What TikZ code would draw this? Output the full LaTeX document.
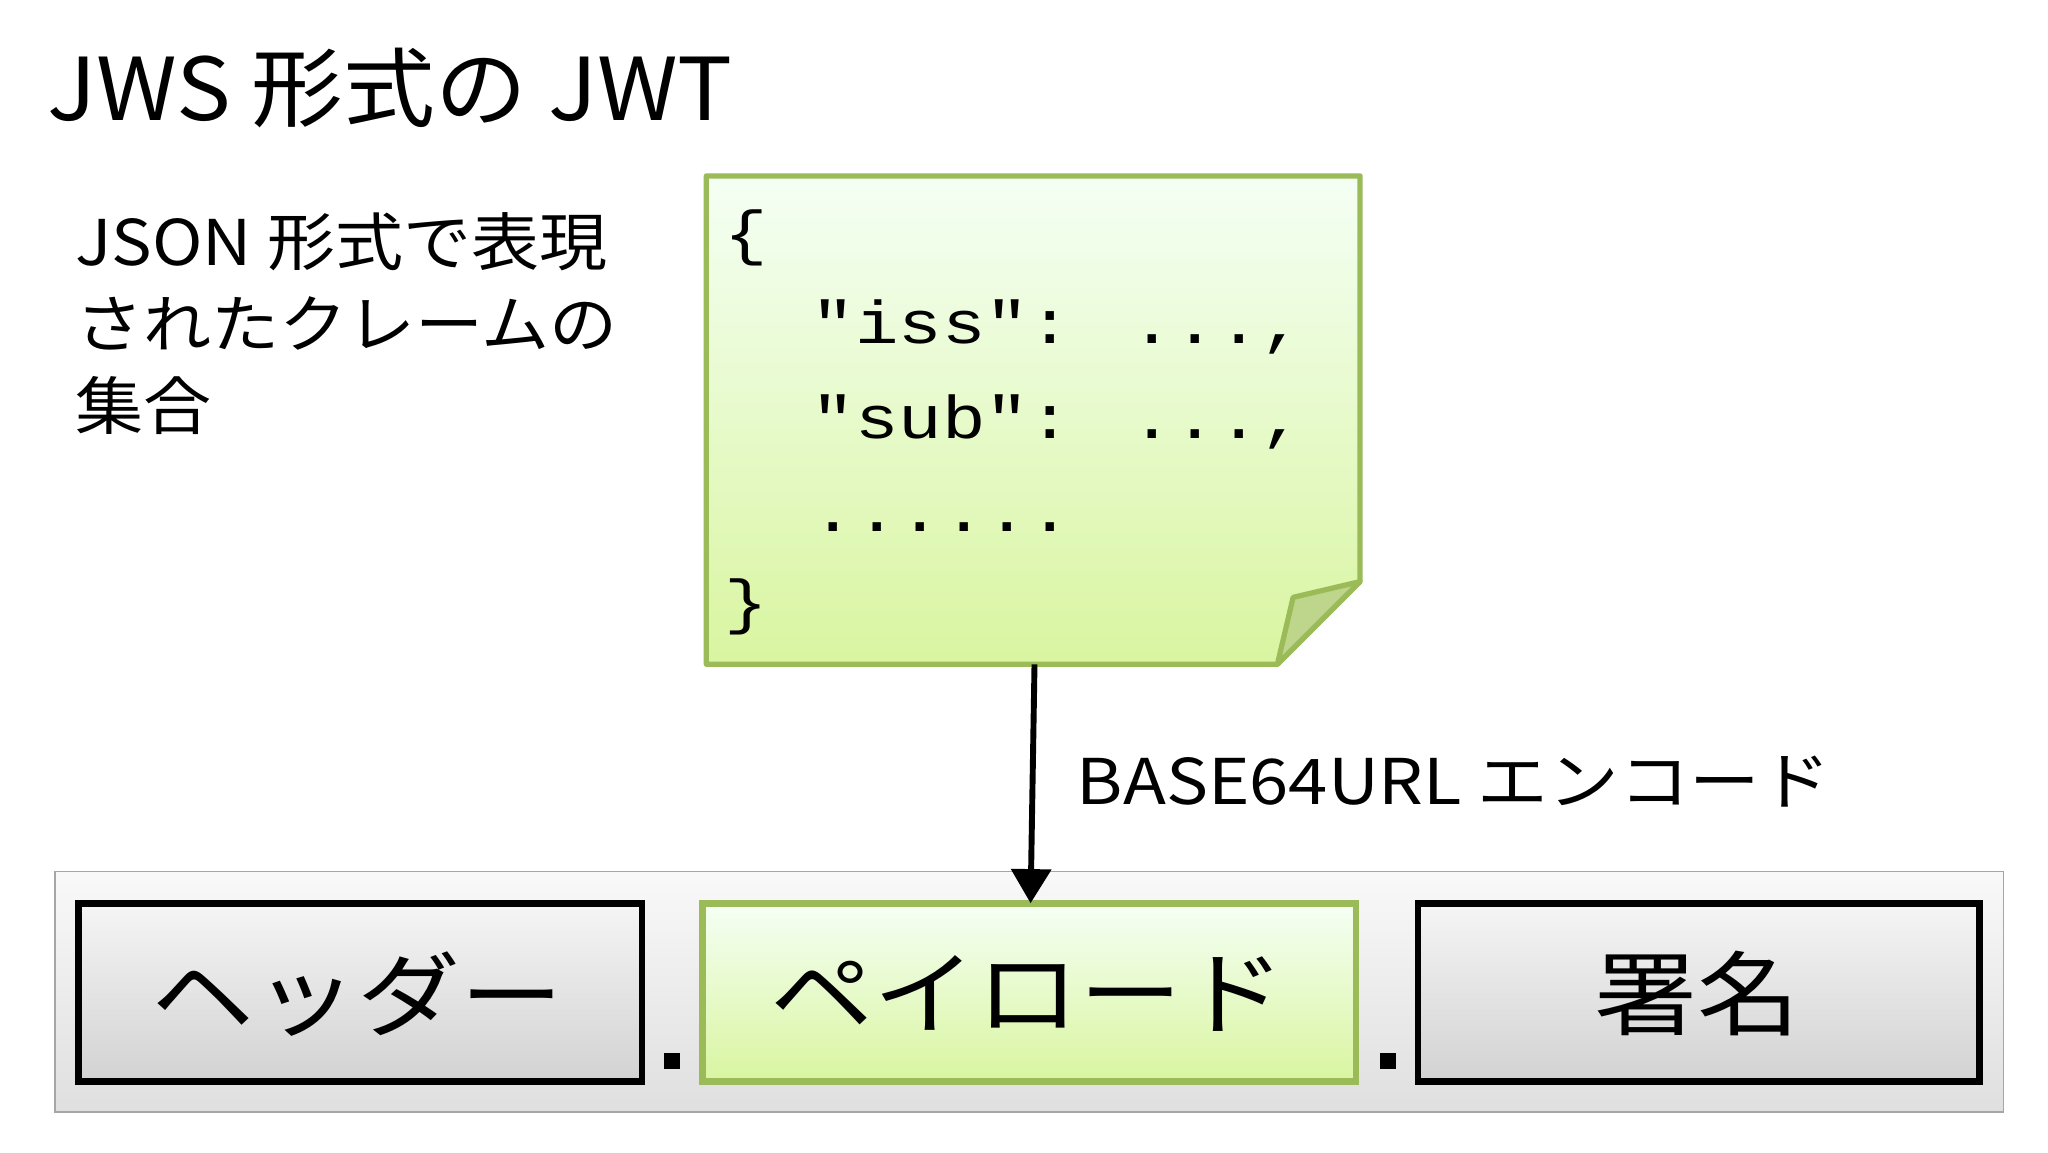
\documentclass[tikz,border=0pt]{standalone}
\usepackage{fontspec}
\usepackage{graphicx}
\setmainfont{Noto Sans CJK JP}
\newfontfamily\codefont{Liberation Mono}
\usetikzlibrary{arrows.meta}
\definecolor{ngreen}{HTML}{9BBB59}
\newcommand{\wx}[2]{\scalebox{#1}[1]{#2}}
\begin{document}
\begin{tikzpicture}[x=1pt,y=-1pt,
  lbl/.style={anchor=base west,inner sep=0pt},
  box/.style={line width=5pt,top color=gray!8,bottom color=gray!35},
  code/.style={anchor=base west,inner sep=0pt,font=\codefont\fontsize{46}{46}\selectfont}]
\useasboundingbox[fill=white] (0,0) rectangle (1560,878);
\node[lbl,font=\fontsize{66}{66}\selectfont] (title) at (36,92) {\wx{1.06}{JWS 形式の JWT}};
\node[lbl,font=\fontsize{48}{48}\selectfont] (desc) at (57,202) {\wx{1.08}{JSON 形式で表現}};
\node[lbl,font=\fontsize{48}{48}\selectfont] (desc2) at (57,265) {\wx{1.08}{されたクレームの}};
\node[lbl,font=\fontsize{48}{48}\selectfont] (desc3) at (57,327) {\wx{1.08}{集合}};
% note
\path[top color=green!4!white,bottom color={rgb,255:red,217;green,245;blue,160},draw=ngreen,line width=4pt,line join=round]
  (538,134) -- (1036,134) -- (1036,443) -- (973,506) -- (538,506) -- cycle;
\path[fill={rgb,255:red,190;green,214;blue,140},draw=ngreen,line width=4pt,line join=round]
  (1036,443) -- (985,455) -- (973,506) -- cycle;
\node[code] (c1) at (552,193) {\wx{1.2}{\{}};
\node[code] (c2) at (618,262) {\wx{1.2}{"iss": ...,}};
\node[code] (c3) at (618,334) {\wx{1.2}{"sub": ...,}};
\node[code] (c4) at (618,405) {\wx{1.2}{......}};
\node[code] (c5) at (552,474) {\wx{1.2}{\}}};
\coordinate (nb) at (788,506);
% bar
\path[top color=gray!5,bottom color=gray!25,draw=gray!70,line width=1pt] (42,664) rectangle (1526,847);
\draw[box] (60,688) rectangle (489,824);
\path[draw=ngreen,line width=5pt,top color=green!4!white,bottom color={rgb,255:red,217;green,245;blue,160}] (535,688) rectangle (1033,824);
\draw[box] (1080,688) rectangle (1508,824);
\node[font=\fontsize{70}{70}\selectfont] (h) at (272,757) {\wx{1.12}{ヘッダー}};
\node[font=\fontsize{70}{70}\selectfont] (p) at (783,757) {\wx{1.12}{ペイロード}};
\node[font=\fontsize{70}{70}\selectfont] (s) at (1293,757) {\wx{1.12}{署名}};
\fill (506,802) rectangle (518,814);
\fill (1051,802) rectangle (1063,814);
\coordinate (pt) at (785,688);
\draw[line width=4.5pt,-{Triangle[length=26pt,width=30pt]}] (nb) -- (pt);
\node[lbl,font=\fontsize{48}{48}\selectfont] (enc) at (820,613) {\wx{1.12}{BASE64URL エンコード}};
\end{tikzpicture}
\end{document}
